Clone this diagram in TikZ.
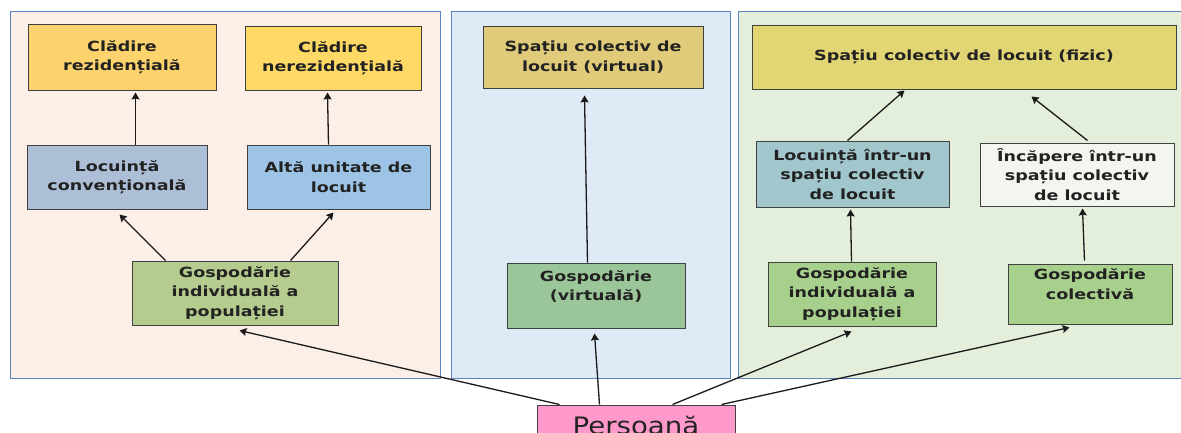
\documentclass[tikz,border=0pt]{standalone}
\usepackage{fontspec}
\newfontfamily\boxfont{DejaVu Sans}[FakeStretch=1.25]
\newfontfamily\persfont{DejaVu Sans}[FakeStretch=1.15]
\usetikzlibrary{arrows.meta,calc}
\definecolor{panelblue}{HTML}{5B83C0}
\definecolor{pinkbg}{HTML}{FCEFE8}
\definecolor{bluebg}{HTML}{DEEAF6}
\definecolor{greenbg}{HTML}{E3EFDA}
\definecolor{boxgray}{HTML}{404040}
\definecolor{txt}{HTML}{222222}
\definecolor{arrcol}{HTML}{1A1A1A}
\definecolor{cOrange}{HTML}{FCD36C}
\definecolor{cGold}{HTML}{FFD966}
\definecolor{cGrayBlue}{HTML}{ACBFD7}
\definecolor{cLightBlue}{HTML}{9DC3E6}
\definecolor{cOlive}{HTML}{B6CC8F}
\definecolor{cKhaki}{HTML}{DFCB7A}
\definecolor{cSage}{HTML}{9BC69A}
\definecolor{cYellowKhaki}{HTML}{E2D574}
\definecolor{cTeal}{HTML}{A1C6CC}
\definecolor{cPale}{HTML}{F2F6EE}
\definecolor{cGreen}{HTML}{A8D08D}
\definecolor{cPink}{HTML}{FF99CC}
\tikzset{
  panel/.style={draw=panelblue, line width=1pt},
  bx/.style={draw=boxgray, line width=1pt, inner sep=0pt, align=center, text=txt,
    font=\boxfont\bfseries\fontsize{14}{19.5}\selectfont},
  arr/.style={draw=arrcol, line width=1.3pt, -{Stealth[length=7pt,width=8pt,inset=1pt]}},
}
\begin{document}
\begin{tikzpicture}[x=1pt,y=-1pt]
\useasboundingbox (0,0) rectangle (1181,432);
\fill[white] (0,0) rectangle (1181,432);
% panels
\draw[panel, fill=pinkbg] (10,11) rectangle (440,378);
\draw[panel, fill=bluebg] (451,11) rectangle (730,378);
\draw[panel, fill=greenbg] (738,11) rectangle (1190,378);
% boxes left
\node[bx, fill=cOrange, minimum width=188pt, minimum height=66pt] (cr) at (122,57) {Clădire\\rezidențială};
\node[bx, fill=cGold, minimum width=176pt, minimum height=64pt] (cn) at (333,58) {Clădire\\nerezidențială};
\node[bx, fill=cGrayBlue, minimum width=180pt, minimum height=64pt] (lc) at (117,177) {Locuință\\convențională};
\node[bx, fill=cLightBlue, minimum width=183pt, minimum height=64pt] (au) at (338.5,177) {Altă unitate de\\locuit};
\node[bx, fill=cOlive, minimum width=206pt, minimum height=64pt] (gi) at (235,293) {Gospodărie\\individuală a\\populației};
% middle
\node[bx, fill=cKhaki, minimum width=220pt, minimum height=62pt] (sv) at (593,57) {Spațiu colectiv de\\locuit (virtual)};
\node[bx, fill=cSage, minimum width=178pt, minimum height=65pt] (gv) at (596,295.5) {Gospodărie\\(virtuală)\\~};
% right
\node[bx, fill=cYellowKhaki, minimum width=424pt, minimum height=64pt] (sf) at (964,57) {Spațiu colectiv de locuit (fizic)};
\node[bx, fill=cTeal, minimum width=193pt, minimum height=66pt] (li) at (852.5,174) {Locuință într-un\\spațiu colectiv\\de locuit};
\node[bx, fill=cPale, minimum width=194pt, minimum height=63pt] (ic) at (1077,174.5) {Încăpere într-un\\spațiu colectiv\\de locuit};
\node[bx, fill=cGreen, minimum width=168pt, minimum height=64pt] (gr) at (852,294) {Gospodărie\\individuală a\\populației};
\node[bx, fill=cGreen, minimum width=164pt, minimum height=60pt] (gc) at (1090,294) {Gospodărie\\colectivă\\~};
% person
\node[draw=boxgray, line width=1pt, fill=cPink, inner sep=0pt, minimum width=198pt, minimum height=40pt,
  text=txt, font=\persfont\fontsize{24}{28}\selectfont] (pe) at (636,425) {Persoană};
% arrows
\draw[arr] ([xshift=109pt]lc.north west) -- ([xshift=108pt,yshift=-2pt]cr.south west);
\draw[arr] ([xshift=82pt]au.north west) -- ([xshift=83pt,yshift=-2pt]cn.south west);
\draw[arr] ([xshift=34pt]gi.north west) -- ([xshift=93pt,yshift=-5pt]lc.south west);
\draw[arr] ([xshift=159pt]gi.north west) -- ([xshift=87pt,yshift=-3pt]au.south west);
\draw[arr] ([xshift=81pt]gv.north west) -- ([xshift=102pt,yshift=-7pt]sv.south west);
\draw[arr] ([xshift=63pt]pe.north west) -- ([xshift=88pt,yshift=-5pt]gv.south west);
\draw[arr] ([xshift=23pt]pe.north west) -- ([xshift=108pt,yshift=-5pt]gi.south west);
\draw[arr] ([xshift=136pt]pe.north west) -- ([xshift=84pt,yshift=-5pt]gr.south west);
\draw[arr] ([xshift=185pt]pe.north west) -- ([xshift=62pt,yshift=-3pt]gc.south west);
\draw[arr] ([xshift=92pt]li.north west) -- ([xshift=153pt,yshift=-1pt]sf.south west);
\draw[arr] ([xshift=108pt,yshift=2pt]ic.north west) -- ([xshift=280pt,yshift=-7pt]sf.south west);
\draw[arr] ([xshift=84pt]gr.north west) -- ([xshift=95pt,yshift=-2pt]li.south west);
\draw[arr] ([xshift=77pt,yshift=3pt]gc.north west) -- ([xshift=103pt,yshift=-2pt]ic.south west);
\end{tikzpicture}
\end{document}
